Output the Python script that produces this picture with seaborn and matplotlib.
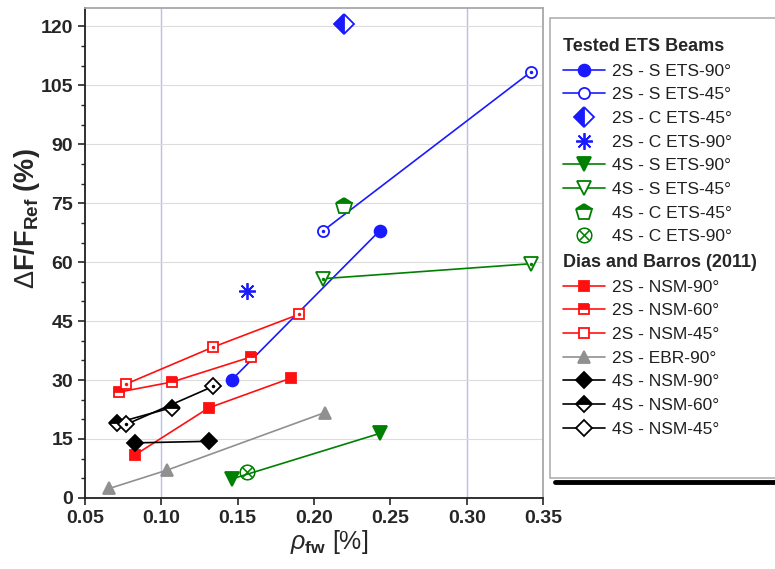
import matplotlib
matplotlib.use('Agg')
import matplotlib.pyplot as plt
from matplotlib.lines import Line2D
from matplotlib.patches import Rectangle
import seaborn as sns

# Datos (rho_fw [%], dF/F_ref [%])
s2_s90_x = [0.146, 0.243]
s2_s90_y = [30.0, 68.0]
s2_s45_x = [0.206, 0.342]
s2_s45_y = [68.0, 108.4]
s2_c45_x = [0.2195]
s2_c45_y = [120.7]
s2_c90_x = [0.156]
s2_c90_y = [52.7]
s4_s90_x = [0.146, 0.243]
s4_s90_y = [4.8, 16.4]
s4_s45_x = [0.206, 0.342]
s4_s45_y = [55.8, 59.6]
s4_c45_x = [0.2195]
s4_c45_y = [74.4]
s4_c90_x = [0.156]
s4_c90_y = [6.6]

nsm2_90_x = [0.083, 0.131, 0.185]
nsm2_90_y = [11.0, 22.9, 30.5]
nsm2_60_x = [0.072, 0.107, 0.159]
nsm2_60_y = [26.9, 29.5, 35.9]
nsm2_45_x = [0.077, 0.134, 0.190]
nsm2_45_y = [29.0, 38.4, 46.7]
ebr2_90_x = [0.066, 0.104, 0.207]
ebr2_90_y = [2.4, 7.1, 21.7]
nsm4_90_x = [0.083, 0.131]
nsm4_90_y = [14.0, 14.4]
nsm4_60_x = [0.071, 0.107]
nsm4_60_y = [19.1, 23.0]
nsm4_45_x = [0.077, 0.134]
nsm4_45_y = [18.7, 28.4]

labels = ['2S - S ETS-90°', '2S - S ETS-45°', '2S - C ETS-45°', '2S - C ETS-90°',
          '4S - S ETS-90°', '4S - S ETS-45°', '4S - C ETS-45°', '4S - C ETS-90°',
          '2S - NSM-90°', '2S - NSM-60°', '2S - NSM-45°', '2S - EBR-90°',
          '4S - NSM-90°', '4S - NSM-60°', '4S - NSM-45°']

BLUE = '#1a1aff'
GREEN = '#008000'
RED = '#ff1010'
GRAY = '#909090'
BLACK = '#000000'

sns.set_style('ticks')
plt.rcParams['font.family'] = ['Liberation Sans', 'DejaVu Sans']
plt.rcParams['mathtext.fontset'] = 'custom'
plt.rcParams['mathtext.rm'] = 'Liberation Sans'
plt.rcParams['mathtext.it'] = 'Liberation Sans:italic'
plt.rcParams['mathtext.bf'] = 'Liberation Sans:bold'

fig = plt.figure(figsize=(7.75, 5.69), dpi=100)
ax = fig.add_axes([0.1097, 0.125, 0.591, 0.861])

# Lineas de referencia
for xv in [0.10, 0.30]:
    ax.axvline(xv, color='#bcbcf0', lw=1.0, zorder=0)
for yv in range(15, 125, 15):
    ax.axhline(yv, color='#dcdcdc', lw=0.8, zorder=0)

# Series: (x, y, color, marcador, tamaño, relleno, punto central, con línea)
series = [
    (s2_s90_x, s2_s90_y, BLUE, 'o', 8.5, 'full', False, True),
    (s2_s45_x, s2_s45_y, BLUE, 'o', 8, 'none', True, True),
    (s2_c45_x, s2_c45_y, BLUE, 'D', 10, 'left', False, False),
    (s2_c90_x, s2_c90_y, BLUE, (8, 2, 0), 12, 'full', False, False),
    (s4_s90_x, s4_s90_y, GREEN, 'v', 10, 'full', False, True),
    (s4_s45_x, s4_s45_y, GREEN, 'v', 10, 'none', True, True),
    (s4_c45_x, s4_c45_y, GREEN, 'p', 12, 'top', False, False),
    (s4_c90_x, s4_c90_y, GREEN, r'$\otimes$', 11, 'full', False, False),
    (nsm2_90_x, nsm2_90_y, RED, 's', 7, 'full', False, True),
    (nsm2_60_x, nsm2_60_y, RED, 's', 7, 'top', False, True),
    (nsm2_45_x, nsm2_45_y, RED, 's', 7, 'none', True, True),
    (ebr2_90_x, ebr2_90_y, GRAY, '^', 9, 'full', False, True),
    (nsm4_90_x, nsm4_90_y, BLACK, 'D', 8, 'full', False, True),
    (nsm4_60_x, nsm4_60_y, BLACK, 'D', 8, 'top', False, True),
    (nsm4_45_x, nsm4_45_y, BLACK, 'D', 8, 'none', True, True),
]

handles = []
for (x, y, c, m, ms, fs, dot, line), lab in zip(series, labels):
    kw = dict(marker=m, markersize=ms, fillstyle=fs, markeredgecolor=c,
              markerfacecolor=c, markerfacecoloralt='white', markeredgewidth=1.3)
    if fs == 'none':
        kw['markerfacecolor'] = 'white'
        kw['fillstyle'] = 'full'
    if isinstance(m, str) and m.startswith('$'):
        kw['markeredgewidth'] = 0.6
    sns.lineplot(x=x, y=y, ax=ax, color=c, lw=1.2 if line else 0,
                 estimator=None, sort=False, legend=False, **kw)
    if dot:
        sns.lineplot(x=x, y=y, ax=ax, color=c, lw=0, marker='o', markersize=2.5,
                     markeredgewidth=0, estimator=None, sort=False, legend=False)
    handles.append(Line2D([], [], color=c, lw=1.2 if line else 0, **kw))

ax.set_xlim(0.05, 0.35)
ax.set_ylim(0, 124.7)
ax.set_xticks([0.05, 0.10, 0.15, 0.20, 0.25, 0.30, 0.35])
ax.set_xticklabels(['0.05', '0.10', '0.15', '0.20', '0.25', '0.30', '0.35'])
ax.set_yticks(range(0, 121, 15))
ax.set_yticks(range(0, 125, 5), minor=True)
ax.tick_params(axis='both', which='major', direction='out', length=5, width=1.2,
               labelsize=14)
ax.tick_params(axis='y', which='minor', direction='out', length=3, width=1.0)
for t in ax.get_xticklabels() + ax.get_yticklabels():
    t.set_fontweight('bold')
for sp in ['left', 'bottom']:
    ax.spines[sp].set_linewidth(1.3)
    ax.spines[sp].set_color('#202020')
for sp in ['top', 'right']:
    ax.spines[sp].set_visible(True)
    ax.spines[sp].set_linewidth(1.3)
    ax.spines[sp].set_color('#a8a8a8')

ax.set_ylabel(r'$\Delta\mathbf{F/F_{Ref}}$ (%)', fontsize=19.5, fontweight='bold')
ax.yaxis.set_label_coords(-0.093, 0.57)
ax.set_xlabel(r'$\rho_{\mathbf{fw}}$ [%]', fontsize=18)
ax.xaxis.set_label_coords(0.533, -0.062)

# Leyenda
frame = Rectangle((550 / 775, 1 - 478 / 569), 0.3, (478 - 18) / 569,
                  transform=fig.transFigure, facecolor='white',
                  edgecolor='#b0b0b0', lw=1.2, zorder=0)
fig.patches.append(frame)
fig.add_artist(Line2D([555 / 775, 1.0], [1 - 482 / 569, 1 - 482 / 569],
                      transform=fig.transFigure, color='black', lw=3.5))

leg_kw = dict(frameon=False, loc='upper left', alignment='left', fontsize=12.5,
              title_fontproperties={'weight': 'bold', 'size': 13},
              handlelength=2.4, handletextpad=0.4, labelspacing=0.49,
              borderpad=0, borderaxespad=0)
leg1 = fig.legend(handles[:8], labels[:8], title='Tested ETS Beams',
                  bbox_to_anchor=(563 / 775, 1 - 38 / 569), **leg_kw)
leg2 = fig.legend(handles[8:], labels[8:], title='Dias and Barros (2011)',
                  bbox_to_anchor=(563 / 775, 1 - 254 / 569), **leg_kw)
for lg in (leg1, leg2):
    for t in lg.get_texts():
        t.set_color('#202020')

fig.savefig('out.png', dpi=100)
